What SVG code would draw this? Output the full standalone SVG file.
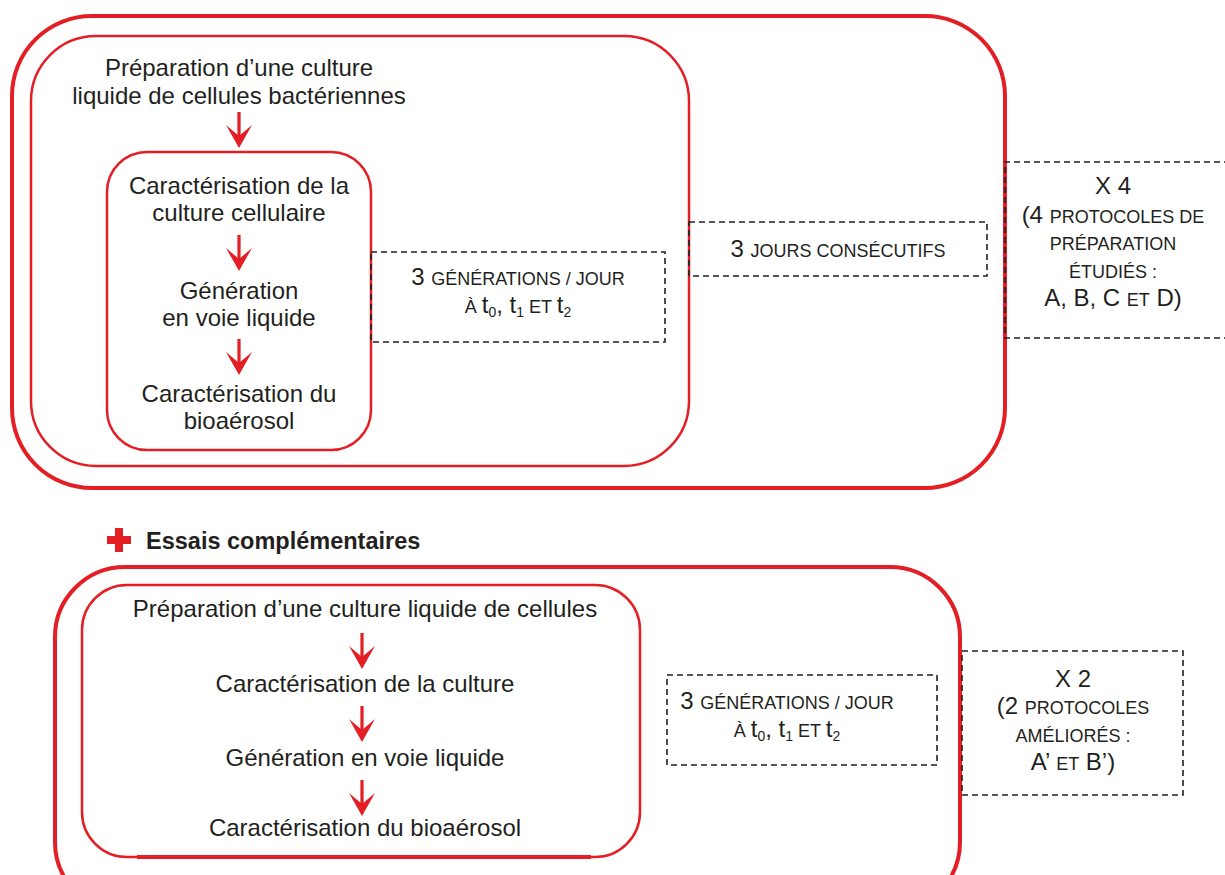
<svg xmlns="http://www.w3.org/2000/svg" width="1225" height="875" viewBox="0 0 1225 875">
<style>
.outer{fill:none;stroke:#e31e24;stroke-width:4}
.inner{fill:none;stroke:#e31e24;stroke-width:2.5}
.dash{fill:none;stroke:#231f20;stroke-width:1.6;stroke-dasharray:6 4}
.t{font-family:"Liberation Sans",Arial,sans-serif;font-size:24px;fill:#231f20;text-anchor:middle}
.s{font-size:18px}
.sub{font-size:14px}
.b{font-weight:bold;text-anchor:start;font-size:23.5px}
.arrow{fill:#e31e24}
</style>
<defs>
<g id="arr">
<rect x="-1.6" y="0" width="3.2" height="26"/>
<polygon points="0,36 -13,13 0,24 13,13"/>
</g>
</defs>
<rect x="0" y="0" width="1225" height="875" fill="#fff"/>

<g id="top-outer"><rect class="outer" x="12" y="16" width="993" height="472" rx="80"/></g>
<g id="top-inner"><rect class="inner" x="31" y="36" width="658" height="430" rx="65"/>
<text class="t" x="239" y="76">Préparation d’une culture</text>
<text class="t" x="239" y="104">liquide de cellules bactériennes</text></g>
<g id="top-steps"><rect class="inner" x="107" y="152" width="264" height="298" rx="40"/>
<text class="t" x="239" y="194">Caractérisation de la</text>
<text class="t" x="239" y="221">culture cellulaire</text>
<text class="t" x="239" y="299">Génération</text>
<text class="t" x="239" y="326">en voie liquide</text>
<text class="t" x="239" y="402">Caractérisation du</text>
<text class="t" x="239" y="429">bioaérosol</text></g>
<g id="top-gen"><rect class="dash" x="371" y="252" width="294" height="90"/>
<text class="t" x="518" y="285">3 <tspan class="s">GÉNÉRATIONS / JOUR</tspan></text>
<text class="t" x="518" y="313"><tspan class="s">À </tspan>t<tspan class="sub" dy="4">0</tspan><tspan dy="-4">, t</tspan><tspan class="sub" dy="4">1</tspan><tspan class="s" dy="-4"> ET </tspan>t<tspan class="sub" dy="4">2</tspan></text></g>
<g id="top-days"><rect class="dash" x="689" y="222" width="298" height="54"/>
<text class="t" x="838" y="257">3 <tspan class="s">JOURS CONSÉCUTIFS</tspan></text></g>
<g id="top-x4"><path class="dash" d="M1230,162 H1005 V338 H1230"/>
<text class="t" x="1113" y="194">X 4</text>
<text class="t" x="1113" y="223">(4 <tspan class="s">PROTOCOLES DE</tspan></text>
<text class="t" x="1113" y="250"><tspan class="s">PRÉPARATION</tspan></text>
<text class="t" x="1113" y="278"><tspan class="s">ÉTUDIÉS :</tspan></text>
<text class="t" x="1113" y="306">A, B, C <tspan class="s">ET</tspan> D)</text></g>

<g id="extra-title">
<rect x="115" y="528" width="8" height="24" fill="#e31e24"/>
<rect x="107" y="536" width="24" height="8" fill="#e31e24"/>
<text class="t b" x="146" y="549">Essais complémentaires</text></g>

<g id="bottom-outer"><rect class="outer" x="55" y="567" width="905" height="345" rx="70"/></g>
<g id="bottom-inner"><rect class="inner" x="82" y="585" width="558" height="272" rx="45"/>
<line x1="137" y1="857" x2="591" y2="857" stroke="#e31e24" stroke-width="4"/>
<text class="t" x="365" y="617">Préparation d’une culture liquide de cellules</text>
<text class="t" x="365" y="692">Caractérisation de la culture</text>
<text class="t" x="365" y="766">Génération en voie liquide</text>
<text class="t" x="365" y="836">Caractérisation du bioaérosol</text></g>
<g id="bottom-gen"><rect class="dash" x="667" y="675" width="270" height="90"/>
<text class="t" x="787" y="709">3 <tspan class="s">GÉNÉRATIONS / JOUR</tspan></text>
<text class="t" x="787" y="737"><tspan class="s">À </tspan>t<tspan class="sub" dy="4">0</tspan><tspan dy="-4">, t</tspan><tspan class="sub" dy="4">1</tspan><tspan class="s" dy="-4"> ET </tspan>t<tspan class="sub" dy="4">2</tspan></text></g>
<g id="bottom-x2"><rect class="dash" x="962" y="651" width="221" height="144"/>
<text class="t" x="1073" y="687">X 2</text>
<text class="t" x="1073" y="714">(2 <tspan class="s">PROTOCOLES</tspan></text>
<text class="t" x="1073" y="742"><tspan class="s">AMÉLIORÉS :</tspan></text>
<text class="t" x="1073" y="770">A’ <tspan class="s">ET</tspan> B’)</text></g>

<g id="connectors" class="arrow">
<use href="#arr" x="239" y="112"/>
<use href="#arr" x="239" y="235"/>
<use href="#arr" x="239" y="339"/>
<use href="#arr" x="362" y="633"/>
<use href="#arr" x="362" y="706"/>
<use href="#arr" x="362" y="780"/>
</g>
</svg>
